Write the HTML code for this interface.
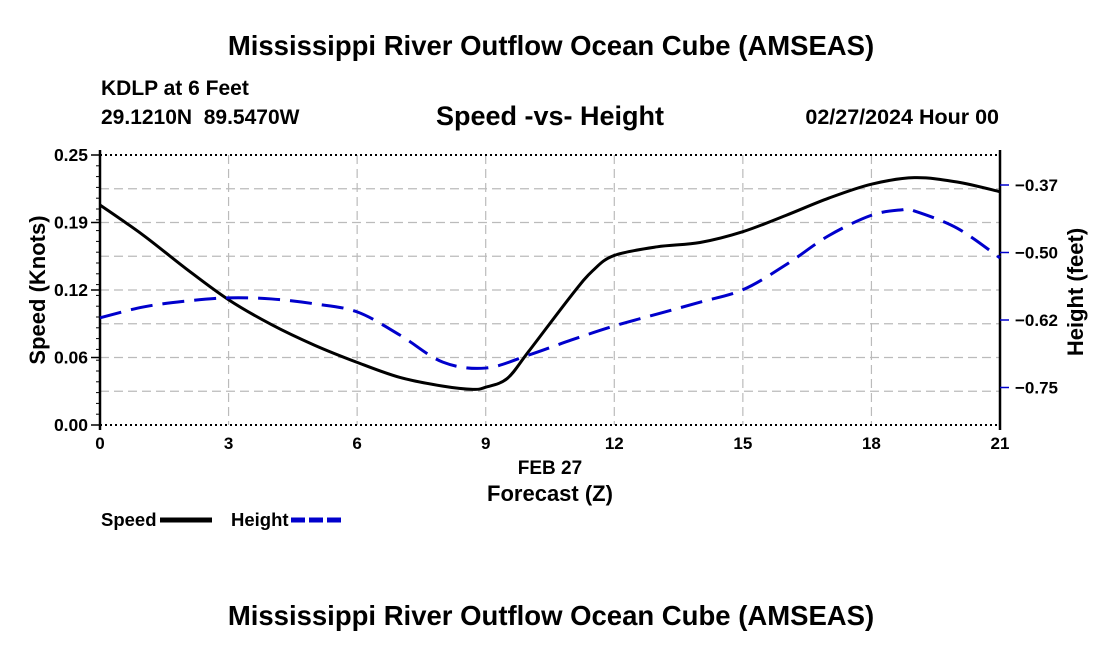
<!DOCTYPE html>
<html><head><meta charset="utf-8"><style>
body{margin:0;background:#fff;width:1100px;height:650px;overflow:hidden}
text{font-family:"Liberation Sans",Arial,sans-serif;font-weight:bold;fill:#000}
</style></head><body>
<svg id="chart" width="1100" height="650" xmlns="http://www.w3.org/2000/svg">
<text x="551" y="55" font-size="27.5" text-anchor="middle">Mississippi River Outflow Ocean Cube (AMSEAS)</text>
<text x="101" y="95" font-size="21">KDLP at 6 Feet</text>
<text x="101" y="124" font-size="21" xml:space="preserve">29.1210N  89.5470W</text>
<text x="550" y="125" font-size="27" text-anchor="middle">Speed -vs- Height</text>
<text x="999" y="124" font-size="21.5" text-anchor="end">02/27/2024 Hour 00</text>
<text x="551" y="625" font-size="27.5" text-anchor="middle">Mississippi River Outflow Ocean Cube (AMSEAS)</text>
<g id="grid"></g>
<g id="axes"></g>
<g id="series"></g>
<text x="550" y="474" font-size="19" text-anchor="middle">FEB 27</text>
<text x="550" y="501" font-size="22" text-anchor="middle">Forecast (Z)</text>
<text transform="translate(45,290) rotate(-90)" font-size="22" text-anchor="middle">Speed (Knots)</text>
<text transform="translate(1083,292) rotate(-90)" font-size="22" text-anchor="middle">Height (feet)</text>
<g>
<text x="101" y="526" font-size="18.5">Speed</text>
<line x1="160" y1="520" x2="212" y2="520" stroke="#000" stroke-width="5"/>
</g>
<g>
<text x="231" y="526" font-size="18.5">Height</text>
<line x1="291" y1="520" x2="343" y2="520" stroke="#00c" stroke-width="5" stroke-dasharray="14,4"/>
</g>
</svg>
<script>
const hours=[0,1,2,3,4,5,6,7,8,8.7,9,9.5,10,11,11.5,12,13,14,15,16,17,18,19,20,21];
const speed=[0.2037,0.176,0.145,0.116,0.093,0.074,0.058,0.044,0.036,0.033,0.035,0.043,0.068,0.12,0.143,0.157,0.165,0.169,0.179,0.194,0.21,0.223,0.229,0.225,0.216];
const hHours=[0,1,2,3,4,5,6,7,8,9,10,11,12,13,14,15,16,17,18,18.7,19,20,21];
const height=[-0.621,-0.601,-0.590,-0.584,-0.586,-0.595,-0.610,-0.653,-0.703,-0.714,-0.690,-0.662,-0.636,-0.614,-0.592,-0.569,-0.523,-0.469,-0.431,-0.421,-0.423,-0.455,-0.510];
const xTicks=[0,3,6,9,12,15,18,21];
const speedTicks=[0,0.0625,0.125,0.1875,0.25];
const speedLabels=["0.00","0.06","0.12","0.19","0.25"];
const heightTicks=[-0.375,-0.5,-0.625,-0.75];
const heightLabels=["\u22120.37","\u22120.50","\u22120.62","\u22120.75"];
const L=100,R=1000,T=155,B=425;
const xs=h=>L+(R-L)*h/21;
const ys=v=>B-(B-T)*v/0.25;
const HTOP=-0.375+30*0.125/67.5,HBOT=-0.375-240*0.125/67.5;
const yh=v=>T+(B-T)*(HTOP-v)/(HTOP-HBOT);
const NS="http://www.w3.org/2000/svg";
function mk(tag,attrs,parent){const e=document.createElementNS(NS,tag);for(const k in attrs)e.setAttribute(k,attrs[k]);parent.appendChild(e);return e;}
const grid=document.getElementById('grid'),axes=document.getElementById('axes'),series=document.getElementById('series');
for(let i=1;i<8;i++){const y=T+(B-T)*i/8;const g=mk('line',{x1:L,x2:R,y1:y,y2:y,stroke:'#bbb','stroke-width':1.2,'stroke-dasharray':'9,5'},grid);

}
xTicks.forEach(t=>{const x=xs(t);
if(t>0&&t<21){const g=mk('line',{x1:x,x2:x,y1:T,y2:B,stroke:'#bbb','stroke-width':1.2,'stroke-dasharray':'9,5'},grid);

}
const tx=mk('text',{x:x,y:B+24,'font-size':17,'text-anchor':'middle'},axes);tx.textContent=t;

});
[[L,T,R,T,'2,3'],[L,B,R,B,'2,3']].forEach(a=>{const l=mk('line',{x1:a[0],y1:a[1],x2:a[2],y2:a[3],stroke:'#000','stroke-width':2,'stroke-dasharray':a[4]},axes);

});
const la=mk('line',{x1:L,y1:T-5,x2:L,y2:B+5,stroke:'#000','stroke-width':2.5},axes);


const ra=mk('line',{x1:R,y1:T-5,x2:R,y2:B+5,stroke:'#000','stroke-width':2.5},axes);


for(let i=0;i<=25;i++){const y=T+(B-T)*i/25;mk('line',{x1:L-4,x2:L,y1:y,y2:y,stroke:'#000','stroke-width':1},axes);}
speedTicks.forEach((v,i)=>{const y=ys(v);mk('line',{x1:L-9,x2:L,y1:y,y2:y,stroke:'#000','stroke-width':1.5},axes);
const tx=mk('text',{x:L-12,y:y+6,'font-size':17.5,'text-anchor':'end'},axes);tx.textContent=speedLabels[i];

});
heightTicks.forEach((v,i)=>{const y=yh(v);mk('line',{x1:R,x2:R+9,y1:y,y2:y,stroke:'#00c','stroke-width':1.5},axes);
const tx=mk('text',{x:R+15,y:y+6,'font-size':17,'textLength':43},axes);tx.textContent=heightLabels[i];

});
function smooth(pts){let d='M'+pts[0][0]+','+pts[0][1];for(let i=0;i<pts.length-1;i++){const p0=pts[i-1]||pts[i],p1=pts[i],p2=pts[i+1],p3=pts[i+2]||p2;
d+=' C'+(p1[0]+(p2[0]-p0[0])/6)+','+(p1[1]+(p2[1]-p0[1])/6)+' '+(p2[0]-(p3[0]-p1[0])/6)+','+(p2[1]-(p3[1]-p1[1])/6)+' '+p2[0]+','+p2[1];}return d;}
const sp=mk('path',{d:smooth(hours.map((h,i)=>[xs(h),ys(speed[i])])),fill:'none',stroke:'#000','stroke-width':3},series);


const hp=mk('path',{d:smooth(hHours.map((h,i)=>[xs(h),yh(height[i])])),fill:'none',stroke:'#00c','stroke-width':3,'stroke-dasharray':'22,10'},series);


</script>
</body></html>
